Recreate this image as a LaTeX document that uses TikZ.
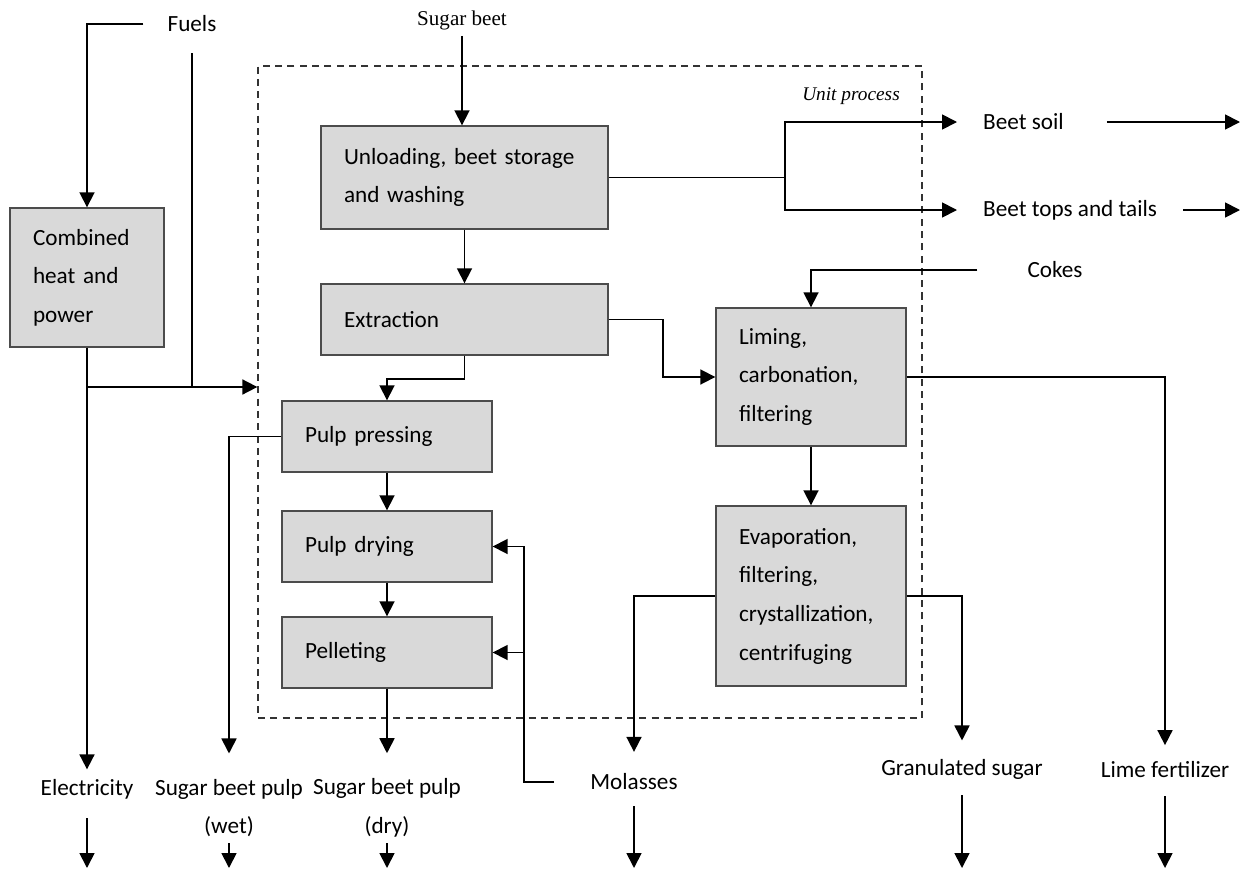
\documentclass[tikz,border=0pt]{standalone}
\usepackage{fontspec}
\setmainfont{Carlito}
\newfontfamily\garafont{Liberation Serif}
\usetikzlibrary{arrows.meta}
\tikzset{
  txt/.style = {font=\fontsize{13.2}{22}\selectfont},
  proc_box/.style = {txt, draw=black!70, fill=black!15, line width=0.8pt, align=left, inner xsep=0.46cm, anchor=center},
  unit_frame/.style = {draw=black!80, line width=0.8pt, dash pattern=on 4pt off 3pt, minimum width=13.28cm, minimum height=13.04cm, inner sep=0pt},
  io_lbl/.style = {txt, align=center},
  pipe/.style = {line width=1pt},
  flow/.style = {pipe, -{Triangle[length=0.3cm, width=0.3cm]}},
}
\begin{document}
\begin{tikzpicture}[x=0.02cm, y=-0.02cm]
  \useasboundingbox (0,0) rectangle (1254,879);
  % unit process frame
  \node [unit_frame] (unit) at (590,392) {};
  \node [font=\garafont\itshape\fontsize{11}{12}\selectfont] (unitlbl) at (851,96) {Unit process};
  % process boxes
  \node [proc_box, text width=2.16cm, minimum height=2.78cm] (chp) at (87,277.5) {Combined\\heat and\\power};
  \node [proc_box, text width=4.82cm, minimum height=2.06cm] (unload) at (464.5,177.5) {Unloading, beet storage\\and washing};
  \node [proc_box, text width=4.82cm, minimum height=1.42cm] (extract) at (464.5,319.5) {Extraction};
  \node [proc_box, text width=3.28cm, minimum height=1.42cm] (press) at (387,436.5) {Pulp pressing};
  \node [proc_box, text width=3.28cm, minimum height=1.42cm] (dry) at (387,546.5) {Pulp drying};
  \node [proc_box, text width=3.28cm, minimum height=1.42cm] (pellet) at (387,652.5) {Pelleting};
  \node [proc_box, text width=2.88cm, minimum height=2.76cm] (liming) at (811,377) {Liming,\\carbonation,\\filtering};
  \node [proc_box, text width=2.88cm, minimum height=3.6cm] (evap) at (811,596) {Evaporation,\\filtering,\\crystallization,\\centrifuging};
  % inputs and outputs
  \node [io_lbl] (fuels) at (192,24) {Fuels};
  \node [font=\garafont\fontsize{12}{14}\selectfont] (beet) at (462,20) {Sugar beet};
  \node [io_lbl, anchor=west] (soil) at (977,122) {Beet soil};
  \node [io_lbl, anchor=west] (tops) at (977,210) {Beet tops and tails};
  \node [io_lbl] (cokes) at (1055,270) {Cokes};
  \node [io_lbl] (elec) at (87,789) {Electricity};
  \node [io_lbl] (wet) at (229,808) {Sugar beet pulp\\(wet)};
  \node [io_lbl] (dryout) at (387,808) {Sugar beet pulp\\(dry)};
  \node [io_lbl] (molas) at (634,782) {Molasses};
  \node [io_lbl] (gran) at (962,769) {Granulated sugar};
  \node [io_lbl] (lime) at (1165,770) {Lime fertilizer};
  \coordinate (tap) at (192,387);
  \coordinate (split) at (785,177.5);
  \coordinate (mcorner) at (524,782);
  \coordinate (bottom) at (0,868);
  \coordinate (rightend) at (1240,0);
  % fuels and power
  \draw [flow] ([xshift=-0.36cm]fuels.west) -| (chp.north);
  \draw [pipe] ([yshift=-0.3cm]fuels.south) -- (tap);
  \draw [flow] (chp.south |- tap) -- (unit.west |- tap);
  \draw [flow, shorten >=2pt] (chp.south) -- (chp.south |- elec.north);
  % beet line
  \draw [flow] (beet.south) -- (beet.south |- unload.north);
  \draw [pipe] (unload.east) -- (split);
  \draw [flow] (split) |- ([xshift=-0.4cm]soil.west);
  \draw [flow] (split) |- ([xshift=-0.4cm]tops.west);
  \draw [flow] ([xshift=0.74cm]soil.east) -- (soil.east -| rightend);
  \draw [flow] ([xshift=0.4cm]tops.east) -- (tops.east -| rightend);
  \draw [flow] (unload.south) -- (extract.north);
  \draw [flow] (extract.south) -- ++(0,23) -| (press.north);
  \draw [flow] (extract.east) -- ++(54,0) |- (liming.west);
  \draw [flow] ([xshift=-0.88cm]cokes.west) -| (liming.north);
  \draw [flow, shorten >=6pt] (liming.east) -| (lime.north);
  \draw [flow] (liming.south) -- (evap.north);
  \draw [flow, shorten >=9pt] (evap.west) -| (molas.north);
  \draw [flow, shorten >=7pt] (evap.east) -| (gran.north);
  % molasses back to pulp
  \draw [flow] ([xshift=-0.6cm]molas.west) -- (mcorner) |- (dry.east);
  \draw [flow] (mcorner |- pellet.east) -- (pellet.east);
  % pulp line
  \draw [flow, shorten >=11pt] (press.west) -| (wet.north);
  \draw [flow] (press.south) -- (dry.north);
  \draw [flow] (dry.south) -- (pellet.north);
  \draw [flow, shorten >=11pt] (pellet.south) -- (pellet.south |- dryout.north);
  % leaving the system
  \draw [flow] ([yshift=-0.26cm]elec.south) -- (elec.south |- bottom);
  \draw [flow] (wet.south) -- (wet.south |- bottom);
  \draw [flow] (dryout.south) -- (dryout.south |- bottom);
  \draw [flow] ([yshift=-0.2cm]molas.south) -- (molas.south |- bottom);
  \draw [flow] ([yshift=-0.2cm]gran.south) -- (gran.south |- bottom);
  \draw [flow] ([yshift=-0.24cm]lime.south) -- (lime.south |- bottom);
\end{tikzpicture}
\end{document}
